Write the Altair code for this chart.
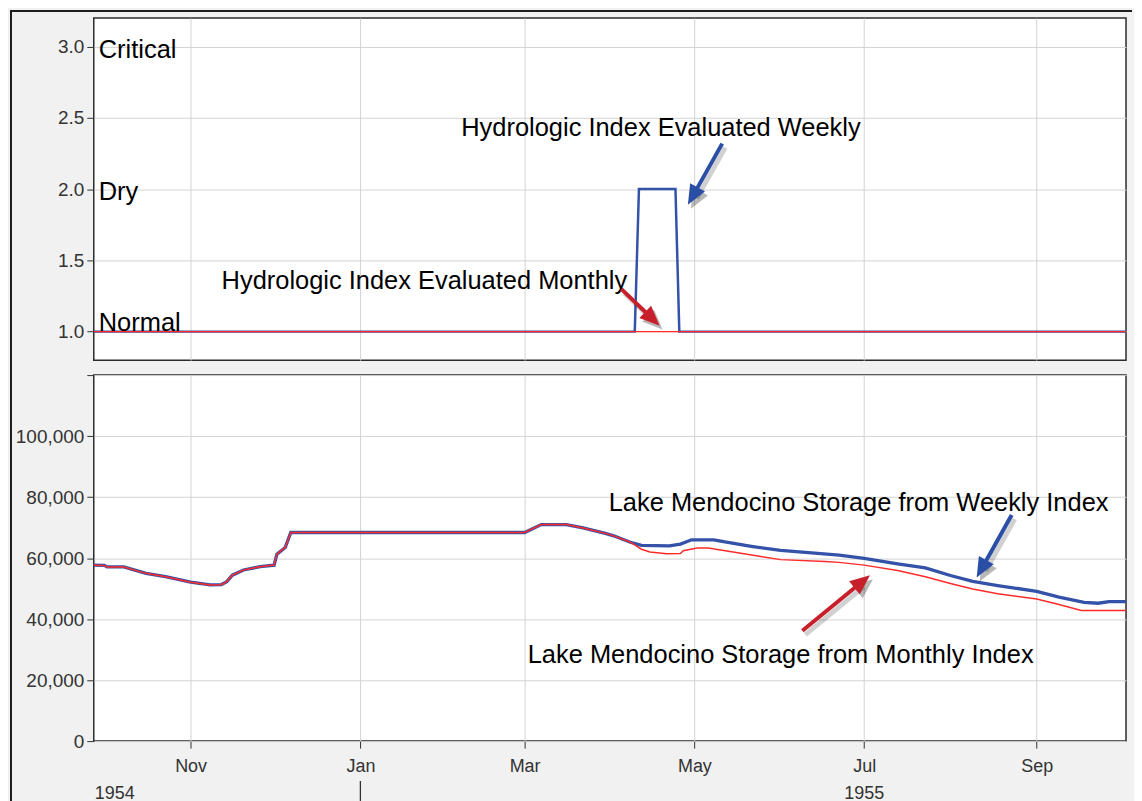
import altair as alt
import pandas as pd

# ---------------------------------------------------------------- data
X_START = "1954-09-27T05:00"
X_END = "1955-10-03T02:00"

MONTH_TICKS = ["1954-11-01", "1955-01-01", "1955-03-01", "1955-05-01", "1955-07-01", "1955-09-01"]

INDEX_TICKS = [1.0, 1.5, 2.0, 2.5, 3.0]
STORAGE_TICKS = [0, 20000, 40000, 60000, 80000, 100000, 120000]

INDEX_WEEKLY_DATES = ["1954-09-25", "1955-04-09T14:00", "1955-04-11T02:00", "1955-04-24T05:00",
                      "1955-04-25T14:00", "1955-10-04"]
INDEX_WEEKLY_VALUES = [1, 1, 2, 2, 1, 1]
INDEX_MONTHLY_DATES = ["1954-09-25", "1955-10-04"]
INDEX_MONTHLY_VALUES = [1, 1]

INDEX_LEVEL_NAMES = ["Critical", "Dry"]
INDEX_LEVEL_VALUES = [3.0, 2.0]
INDEX_BASE_NAME = ["Normal"]
INDEX_BASE_VALUE = [1.0]

# storage shared by both runs (until the indexes differ)
STORAGE_SHARED_DATES = [
    "1954-09-25", "1954-10-01", "1954-10-02", "1954-10-08", "1954-10-16", "1954-10-23",
    "1954-11-01", "1954-11-08", "1954-11-12", "1954-11-14", "1954-11-16", "1954-11-20",
    "1954-11-26", "1954-12-01", "1954-12-02", "1954-12-05", "1954-12-07", "1955-03-01",
    "1955-03-07", "1955-03-16", "1955-03-22", "1955-03-30", "1955-04-02", "1955-04-08",
]
STORAGE_SHARED_VALUES = [
    57700, 57600, 57100, 57100, 55000, 53900,
    52100, 51200, 51300, 52300, 54400, 56100,
    57200, 57700, 61300, 63500, 68400, 68400,
    71000, 71000, 69900, 68100, 67300, 65200,
]
STORAGE_WEEKLY_TAIL_DATES = [
    "1955-04-12", "1955-04-22", "1955-04-26", "1955-04-30", "1955-05-08", "1955-05-12",
    "1955-05-22", "1955-06-01", "1955-06-11", "1955-06-22", "1955-07-01", "1955-07-13",
    "1955-07-23", "1955-08-01", "1955-08-09", "1955-08-18", "1955-09-01", "1955-09-09",
    "1955-09-18", "1955-09-23", "1955-09-27", "1955-10-04",
]
STORAGE_WEEKLY_TAIL_VALUES = [
    64200, 64000, 64600, 66000, 66000, 65300,
    63800, 62500, 61800, 61000, 59900, 58100,
    56800, 54300, 52400, 51000, 49100, 47200,
    45500, 45200, 45750, 45750,
]
STORAGE_MONTHLY_TAIL_DATES = [
    "1955-04-12", "1955-04-15", "1955-04-21", "1955-04-26", "1955-04-27", "1955-05-02",
    "1955-05-06", "1955-05-16", "1955-06-01", "1955-06-17", "1955-06-22", "1955-07-01",
    "1955-07-13", "1955-07-23", "1955-08-01", "1955-08-09", "1955-08-18", "1955-09-01",
    "1955-09-09", "1955-09-17", "1955-10-04",
]
STORAGE_MONTHLY_TAIL_VALUES = [
    62900, 62000, 61400, 61500, 62400, 63300,
    63300, 61800, 59500, 58900, 58600, 57700,
    55900, 53900, 51700, 49900, 48300, 46600,
    44800, 42800, 42800,
]

INDEX_NOTES = ["Hydrologic Index Evaluated Weekly", "Hydrologic Index Evaluated Monthly"]
INDEX_NOTE_DATES = ["1955-04-19", "1955-01-24"]
INDEX_NOTE_VALUES = [2.44, 1.369]

STORAGE_NOTES = ["Lake Mendocino Storage from Weekly Index", "Lake Mendocino Storage from Monthly Index"]
STORAGE_NOTE_DATES = ["1955-06-29", "1955-06-01"]
STORAGE_NOTE_VALUES = [78800, 28800]

# arrows: tail -> tip
INDEX_ARROW_TAIL_DATES = ["1955-05-11T00:00", "1955-04-04T19:00"]
INDEX_ARROW_TAIL_VALUES = [2.319, 1.298]
INDEX_ARROW_TIP_DATES = ["1955-04-28T16:00", "1955-04-18T12:00"]
INDEX_ARROW_TIP_VALUES = [1.89, 1.042]
INDEX_ARROW_KIND = ["weekly", "monthly"]
INDEX_ARROW_ANGLE = [209, 134]
INDEX_ARROW_SHAFT = [0.83, 0.77]

STORAGE_ARROW_TAIL_DATES = ["1955-08-23T00:00", "1955-06-08T19:00"]
STORAGE_ARROW_TAIL_VALUES = [74100, 36200]
STORAGE_ARROW_TIP_DATES = ["1955-08-10T10:00", "1955-07-03T02:00"]
STORAGE_ARROW_TIP_VALUES = [53600, 54400]
STORAGE_ARROW_KIND = ["weekly", "monthly"]
STORAGE_ARROW_ANGLE = [209, 51]
STORAGE_ARROW_SHAFT = [0.83, 0.86]

YEAR_LABELS = ["1954", "1955"]
YEAR_DATES = [X_START, "1955-07-01"]
YEAR_DIVIDER = ["1955-01-01"]

# ---------------------------------------------------------------- style
FONT = "Liberation Sans"
BLUE = "#3352a8"
RED = "#ff2b2b"
ARROW_COLORS = {"weekly": "#2a4ea6", "monthly": "#c8202a"}
GRID = "#d3d3d3"
TEXT = "#333333"
NOTE_SIZE = 25.5
W, H_TOP, H_BOT = 1035, 343, 367


def iso(d):
    return d + ("T00:00:00Z" if "T" not in d else ":00Z")


def ms(d):
    return int(pd.Timestamp(iso(d)).value // 10**6)


XS = alt.Scale(type="utc", domain=[ms(X_START), ms(X_END)])
TICK_MS = [ms(d) for d in MONTH_TICKS]

AX_TOP = alt.Axis(values=TICK_MS, labels=False, ticks=False, domain=False, grid=True,
                  gridColor=GRID, title=None)
AX_BOT = alt.Axis(values=TICK_MS, labelExpr="utcFormat(datum.value, '%b')", labelFont=FONT,
                  labelFontSize=18, labelColor=TEXT, tickSize=7, tickColor=TEXT,
                  labelPadding=9, domain=False, grid=True, gridColor=GRID, title=None,
                  labelFlush=False, labelOverlap=False)
YS_TOP = alt.Scale(domain=[0.8, 3.2], nice=False, zero=False)
YS_BOT = alt.Scale(domain=[0, 120000], nice=False)
AY_TOP = alt.Axis(values=INDEX_TICKS, format=".1f", labelFont=FONT, labelFontSize=19,
                  labelColor=TEXT, tickSize=7, tickColor=TEXT, labelPadding=3,
                  domain=False, grid=True, gridColor=GRID, title=None,
                  minExtent=84, maxExtent=84)
AY_BOT = alt.Axis(values=STORAGE_TICKS, labelExpr="datum.value >= 120000 ? '' : format(datum.value, ',')",
                  labelFont=FONT, labelFontSize=19, labelColor=TEXT, tickSize=7,
                  tickColor=TEXT, labelPadding=3, domain=False, grid=True, gridColor=GRID,
                  title=None, minExtent=84, maxExtent=84)


def xenc(field, axis):
    return alt.X(f"{field}:T", scale=XS, axis=axis)


def yenc(field, scale, axis):
    return alt.Y(f"{field}:Q", scale=scale, axis=axis)


def series_df(dates, values):
    return pd.DataFrame({"date": [ms(d) for d in dates], "value": values})


def arrow_layers(tail_d, tail_v, tip_d, tip_v, kind, angle, shaft, xa, ys, ya):
    rows = []
    for td, tv, pd_, pv, k, a, f in zip(tail_d, tail_v, tip_d, tip_v, kind, angle, shaft):
        t0, t1 = ms(td), ms(pd_)
        rows.append({
            "date": t0, "value": tv,
            "date2": t0 + (t1 - t0) * f, "value2": tv + (pv - tv) * f,
            "tip": t1, "tipv": pv, "color": ARROW_COLORS[k], "angle": a,
        })
    df = pd.DataFrame(rows)
    head_shape = "M0,0L-0.85,2L0.85,2Z"
    base = alt.Chart(df)
    shaft_shadow = base.mark_rule(color="#000000", opacity=0.18, strokeWidth=5,
                                  xOffset=3, yOffset=4, x2Offset=3, y2Offset=4).encode(
        x=xenc("date", xa), x2="date2:T", y=yenc("value", ys, ya), y2="value2:Q")
    head_shadow = base.mark_point(shape=head_shape, filled=True, size=400, opacity=0.28,
                                  color="#000000", strokeWidth=0, xOffset=3, yOffset=4).encode(
        x=xenc("tip", xa), y=yenc("tipv", ys, ya), angle=alt.Angle("angle:Q", scale=None))
    shaft_line = base.mark_rule(strokeWidth=4).encode(
        x=xenc("date", xa), x2="date2:T", y=yenc("value", ys, ya), y2="value2:Q",
        color=alt.Color("color:N", scale=None))
    head = base.mark_point(shape=head_shape, filled=True, size=400, opacity=1,
                           strokeWidth=0).encode(
        x=xenc("tip", xa), y=yenc("tipv", ys, ya), angle=alt.Angle("angle:Q", scale=None),
        color=alt.Color("color:N", scale=None))
    return [shaft_shadow, head_shadow, shaft_line, head]


# ---------------------------------------------------------------- top panel
x_t = xenc("date", AX_TOP)
y_t = yenc("value", YS_TOP, AY_TOP)

idx_weekly = alt.Chart(series_df(INDEX_WEEKLY_DATES, INDEX_WEEKLY_VALUES)).mark_line(
    color=BLUE, strokeWidth=2.5, clip=True).encode(x=x_t, y=y_t)
idx_monthly = alt.Chart(series_df(INDEX_MONTHLY_DATES, INDEX_MONTHLY_VALUES)).mark_line(
    color=RED, strokeWidth=1.3, clip=True).encode(x=x_t, y=y_t)

levels_df = pd.DataFrame({"date": [ms(X_START)] * len(INDEX_LEVEL_NAMES),
                          "value": INDEX_LEVEL_VALUES, "label": INDEX_LEVEL_NAMES})
levels = alt.Chart(levels_df).mark_text(align="left", baseline="middle", dx=5, dy=3,
                                        font=FONT, fontSize=NOTE_SIZE, color="black").encode(
    x=x_t, y=y_t, text="label:N")
base_df = pd.DataFrame({"date": [ms(X_START)], "value": INDEX_BASE_VALUE, "label": INDEX_BASE_NAME})
base_level = alt.Chart(base_df).mark_text(align="left", baseline="alphabetic", dx=5, dy=-1,
                                          font=FONT, fontSize=NOTE_SIZE, color="black").encode(
    x=x_t, y=y_t, text="label:N")

idx_notes_df = pd.DataFrame({"date": [ms(d) for d in INDEX_NOTE_DATES],
                             "value": INDEX_NOTE_VALUES, "label": INDEX_NOTES})
idx_notes = alt.Chart(idx_notes_df).mark_text(align="center", baseline="middle", dy=2,
                                              font=FONT, fontSize=NOTE_SIZE, color="black").encode(
    x=x_t, y=y_t, text="label:N")

one = pd.DataFrame({"k": [0]})
border_left = alt.Chart(one).mark_rule(color="#1e1e1e", strokeWidth=2).encode(
    x=alt.value(-83), y=alt.value(-7), y2=alt.value(790))
border_top = alt.Chart(one).mark_rule(color="#1e1e1e", strokeWidth=2).encode(
    x=alt.value(-84), x2=alt.value(W + 6), y=alt.value(-7))

top = alt.layer(
    idx_weekly, idx_monthly, levels, base_level, idx_notes,
    *arrow_layers(INDEX_ARROW_TAIL_DATES, INDEX_ARROW_TAIL_VALUES, INDEX_ARROW_TIP_DATES,
                  INDEX_ARROW_TIP_VALUES, INDEX_ARROW_KIND, INDEX_ARROW_ANGLE,
                  INDEX_ARROW_SHAFT, AX_TOP, YS_TOP, AY_TOP),
    border_left, border_top,
).properties(width=W, height=H_TOP)

# ---------------------------------------------------------------- bottom panel
x_b = xenc("date", AX_BOT)
y_b = yenc("value", YS_BOT, AY_BOT)

st_weekly = alt.Chart(series_df(STORAGE_SHARED_DATES + STORAGE_WEEKLY_TAIL_DATES,
                                STORAGE_SHARED_VALUES + STORAGE_WEEKLY_TAIL_VALUES)).mark_line(
    color=BLUE, strokeWidth=3.3, clip=True).encode(x=x_b, y=y_b)
st_monthly = alt.Chart(series_df(STORAGE_SHARED_DATES + STORAGE_MONTHLY_TAIL_DATES,
                                 STORAGE_SHARED_VALUES + STORAGE_MONTHLY_TAIL_VALUES)).mark_line(
    color=RED, strokeWidth=1.5, clip=True).encode(x=x_b, y=y_b)

st_notes_df = pd.DataFrame({"date": [ms(d) for d in STORAGE_NOTE_DATES],
                            "value": STORAGE_NOTE_VALUES, "label": STORAGE_NOTES})
st_notes = alt.Chart(st_notes_df).mark_text(align="center", baseline="middle", dy=2,
                                            font=FONT, fontSize=NOTE_SIZE, color="black").encode(
    x=x_b, y=y_b, text="label:N")

year_left = alt.Chart(pd.DataFrame({"date": [ms(YEAR_DATES[0])], "label": [YEAR_LABELS[0]]})).mark_text(
    align="left", baseline="top", dx=1, font=FONT, fontSize=18, color=TEXT).encode(
    x=x_b, y=alt.value(H_BOT + 44), text="label:N")
year_right = alt.Chart(pd.DataFrame({"date": [ms(YEAR_DATES[1])], "label": [YEAR_LABELS[1]]})).mark_text(
    align="center", baseline="top", font=FONT, fontSize=18, color=TEXT).encode(
    x=x_b, y=alt.value(H_BOT + 44), text="label:N")
divider = alt.Chart(pd.DataFrame({"date": [ms(d) for d in YEAR_DIVIDER]})).mark_rule(
    color=TEXT, strokeWidth=1.3).encode(x=x_b, y=alt.value(H_BOT + 40), y2=alt.value(H_BOT + 60))

bottom = alt.layer(
    st_weekly, st_monthly, st_notes,
    *arrow_layers(STORAGE_ARROW_TAIL_DATES, STORAGE_ARROW_TAIL_VALUES, STORAGE_ARROW_TIP_DATES,
                  STORAGE_ARROW_TIP_VALUES, STORAGE_ARROW_KIND, STORAGE_ARROW_ANGLE,
                  STORAGE_ARROW_SHAFT, AX_BOT, YS_BOT, AY_BOT),
    year_left, year_right, divider,
).properties(width=W, height=H_BOT)

chart = alt.vconcat(top, bottom, spacing=15, bounds="flush").properties(
    padding=0, background="#f0f1f0"
).configure_view(fill="white", stroke="#2b2b2b", strokeWidth=1.5)

chart.save("out.html", embed_options={"renderer": "svg", "actions": False})
